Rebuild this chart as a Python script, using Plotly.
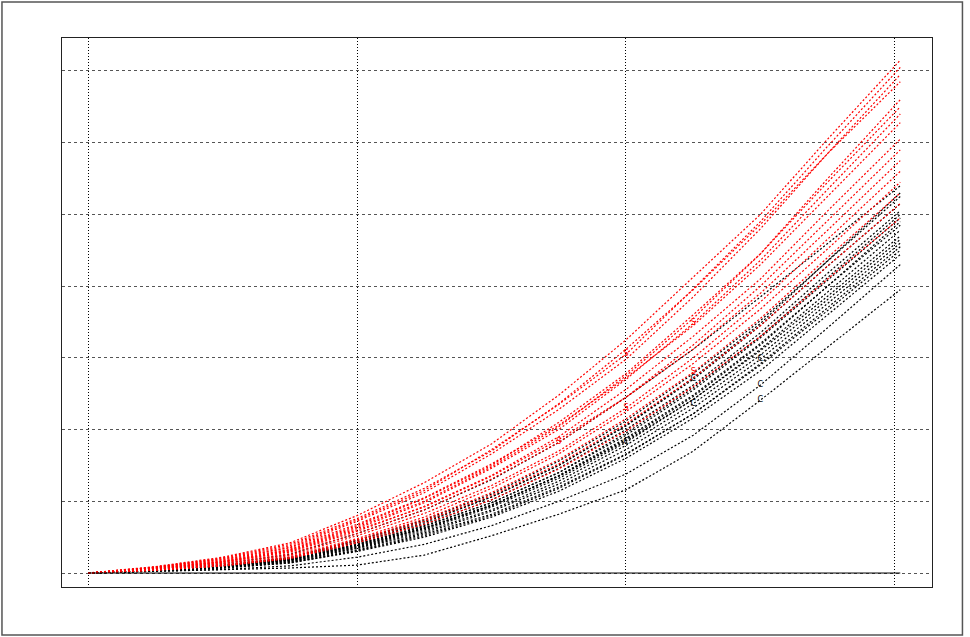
import plotly.graph_objects as go

X = [0, 0.25, 0.5, 0.75, 1.0, 1.25, 1.5, 1.75, 2.0, 2.25, 2.5, 2.75, 3.02]

RED = {
    "r1": [0, 0.09, 0.22, 0.42, 0.80, 1.26, 1.80, 2.48, 3.25, 4.12, 5.00, 6.05, 7.15],
    "r2": [0, 0.08, 0.20, 0.38, 0.74, 1.15, 1.72, 2.35, 3.05, 3.96, 4.90, 5.95, 7.05],
    "r3": [0, 0.08, 0.21, 0.40, 0.76, 1.18, 1.70, 2.36, 3.12, 3.95, 4.86, 5.85, 6.95],
    "r4": [0, 0.07, 0.17, 0.33, 0.66, 1.04, 1.50, 2.10, 2.78, 3.60, 4.45, 5.45, 6.50],
    "r5": [0, 0.06, 0.16, 0.31, 0.62, 0.98, 1.46, 2.00, 2.70, 3.48, 4.36, 5.35, 6.40],
    "r6": [0, 0.07, 0.18, 0.35, 0.68, 1.05, 1.52, 2.06, 2.72, 3.45, 4.30, 5.25, 6.28],
    "r7": [0, 0.06, 0.15, 0.29, 0.58, 0.93, 1.36, 1.90, 2.56, 3.30, 4.10, 5.05, 6.05],
    "r8": [0, 0.05, 0.14, 0.27, 0.55, 0.88, 1.31, 1.82, 2.45, 3.18, 4.00, 4.92, 5.90],
    "r9": [0, 0.06, 0.15, 0.30, 0.60, 0.92, 1.35, 1.86, 2.45, 3.12, 3.90, 4.78, 5.75],
    "r10": [0, 0.05, 0.13, 0.25, 0.52, 0.83, 1.22, 1.70, 2.30, 3.00, 3.78, 4.65, 5.60],
    "r11": [0, 0.05, 0.12, 0.24, 0.48, 0.78, 1.18, 1.66, 2.25, 2.92, 3.68, 4.52, 5.45],
    "r12": [0, 0.04, 0.11, 0.22, 0.46, 0.75, 1.12, 1.58, 2.15, 2.80, 3.55, 4.40, 5.30],
    "r13": [0, 0.08, 0.19, 0.36, 0.72, 1.12, 1.66, 2.28, 2.98, 3.85, 4.80, 5.85, 6.85],
    "r14": [0, 0.04, 0.10, 0.21, 0.44, 0.72, 1.08, 1.52, 2.08, 2.72, 3.45, 4.28, 5.15],
    "r15": [0, 0.06, 0.16, 0.32, 0.64, 1.00, 1.48, 2.04, 2.75, 3.55, 4.45, 5.50, 6.60],
    "r16": [0, 0.04, 0.10, 0.20, 0.42, 0.68, 1.02, 1.45, 1.98, 2.60, 3.30, 4.10, 4.95],
}

BLACK = {
    "b1": [0, 0.05, 0.13, 0.26, 0.55, 0.88, 1.30, 1.82, 2.45, 3.12, 3.85, 4.60, 5.40],
    "b2": [0, 0.05, 0.11, 0.22, 0.46, 0.74, 1.10, 1.56, 2.12, 2.78, 3.52, 4.35, 5.25],
    "b3": [0, 0.04, 0.11, 0.21, 0.45, 0.72, 1.06, 1.50, 2.05, 2.70, 3.45, 4.28, 5.15],
    "b4": [0, 0.04, 0.10, 0.20, 0.42, 0.68, 1.02, 1.46, 2.00, 2.62, 3.35, 4.18, 5.05],
    "b5": [0, 0.04, 0.10, 0.19, 0.40, 0.66, 0.98, 1.40, 1.92, 2.55, 3.28, 4.08, 4.95],
    "b6": [0, 0.04, 0.09, 0.18, 0.38, 0.62, 0.94, 1.36, 1.88, 2.48, 3.20, 4.00, 4.85],
    "b7": [0, 0.03, 0.08, 0.17, 0.36, 0.60, 0.92, 1.32, 1.82, 2.42, 3.12, 3.92, 4.78],
    "b8": [0, 0.04, 0.09, 0.18, 0.39, 0.63, 0.95, 1.35, 1.84, 2.42, 3.10, 3.86, 4.70],
    "b9": [0, 0.03, 0.08, 0.16, 0.34, 0.56, 0.86, 1.24, 1.72, 2.30, 2.98, 3.76, 4.60],
    "b10": [0, 0.03, 0.07, 0.15, 0.32, 0.54, 0.82, 1.20, 1.66, 2.22, 2.90, 3.66, 4.50],
    "b11": [0, 0.03, 0.07, 0.14, 0.30, 0.50, 0.78, 1.14, 1.60, 2.16, 2.82, 3.60, 4.44],
    "b12": [0, 0.02, 0.04, 0.07, 0.11, 0.25, 0.52, 0.82, 1.16, 1.70, 2.41, 3.15, 3.95],
    "b13": [0, 0.02, 0.05, 0.10, 0.22, 0.40, 0.66, 1.00, 1.38, 1.92, 2.62, 3.42, 4.30],
    "b14": [0, 0.04, 0.09, 0.19, 0.40, 0.65, 0.98, 1.40, 1.95, 2.58, 3.30, 4.12, 5.00],
    "b15": [0, 0.03, 0.09, 0.18, 0.37, 0.62, 0.94, 1.35, 1.86, 2.46, 3.18, 4.00, 4.90],
    "b16": [0, 0.03, 0.08, 0.16, 0.35, 0.58, 0.88, 1.28, 1.78, 2.36, 3.04, 3.82, 4.65],
    "b17": [0, 0.04, 0.10, 0.20, 0.43, 0.70, 1.06, 1.50, 2.06, 2.72, 3.48, 4.36, 5.30],
    "b18": [0, 0.03, 0.07, 0.14, 0.31, 0.52, 0.80, 1.18, 1.65, 2.22, 2.92, 3.70, 4.55],
}

BASELINE = [0] * len(X)

# point labels seen on some curves (index into X, label)
RED_LABELS = {"r2": (8, "S"), "r5": (9, "S"), "r8": (7, "S"), "r10": (8, "S"), "r12": (9, "S")}
BLACK_LABELS = {"b3": (9, "C"), "b7": (8, "C"), "b9": (10, "C"), "b12": (10, "C"), "b13": (10, "C"), "b16": (9, "C")}

fig = go.Figure()

def add_series(name, ys, color, labels):
    txt = [""] * len(X)
    if name in labels:
        i, t = labels[name]
        txt[i] = t
    fig.add_trace(go.Scatter(
        x=X, y=ys, mode="lines+text", text=txt, textposition="middle center",
        textfont=dict(size=8, color=color, family="DejaVu Sans"),
        line=dict(color=color, width=1.2, dash="2px,2px"),
        showlegend=False, hoverinfo="skip"))

for k, v in BLACK.items():
    add_series(k, v, "#000000", BLACK_LABELS)
for k, v in RED.items():
    add_series(k, v, "#ff0000", RED_LABELS)

fig.add_trace(go.Scatter(x=X, y=BASELINE, mode="lines",
                         line=dict(color="#000000", width=1),
                         showlegend=False, hoverinfo="skip"))

fig.update_layout(
    width=970, height=637,
    margin=dict(l=62, r=38, t=38, b=50),
    paper_bgcolor="white", plot_bgcolor="white",
    xaxis=dict(range=[-0.097, 3.138], showgrid=True, gridcolor="#000000",
               griddash="1px,2px", gridwidth=1, tickvals=[0, 1, 2, 3],
               showticklabels=False, ticks="", zeroline=False,
               showline=True, mirror=True, linecolor="#222222", linewidth=1),
    yaxis=dict(range=[-0.195, 7.46], showgrid=True, gridcolor="#555555",
               griddash="3px,3px", gridwidth=1, tickvals=[0, 1, 2, 3, 4, 5, 6, 7],
               showticklabels=False, ticks="", zeroline=False,
               showline=True, mirror=True, linecolor="#222222", linewidth=1),
    shapes=[dict(type="rect", xref="paper", yref="paper",
                 x0=-0.069, x1=1.035, y0=-0.0875, y1=1.0656,
                 line=dict(color="#555555", width=1.5))],
)

fig.write_html("out.html", config={"displayModeBar": False},
               post_script="document.body.style.margin='0px';document.body.style.overflow='hidden';")
